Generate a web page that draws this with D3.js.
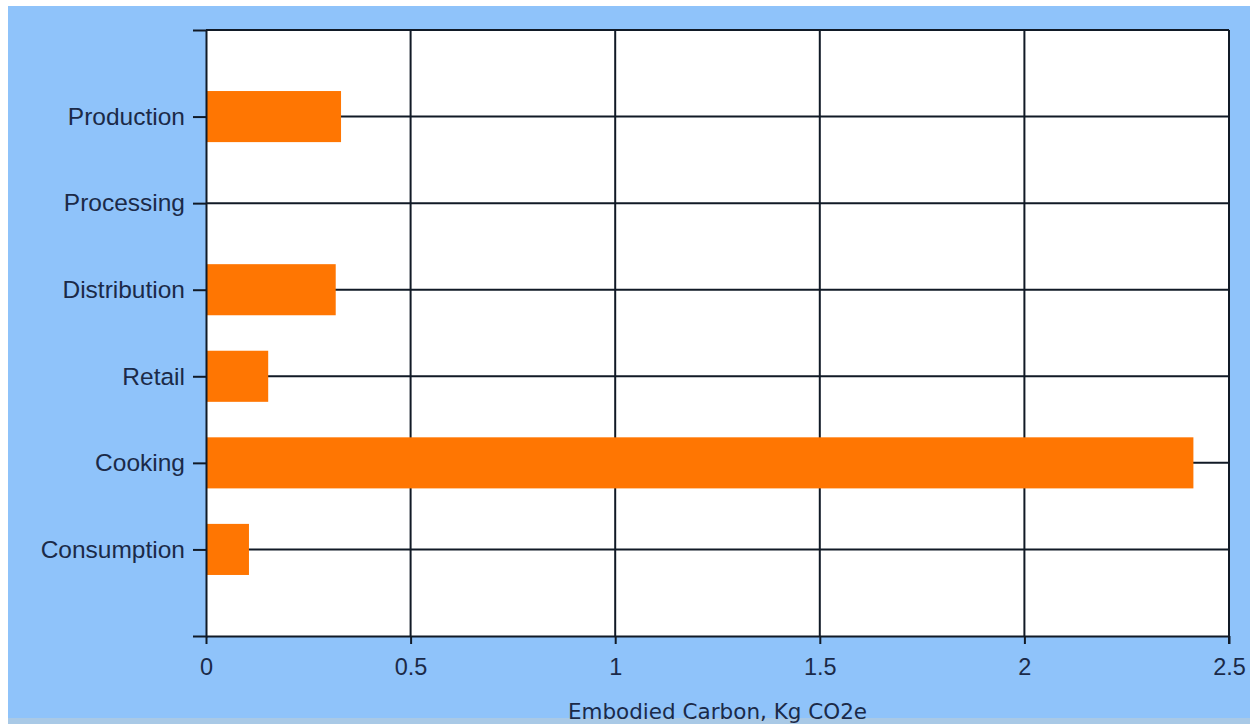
<!DOCTYPE html>
<html>
<head>
<meta charset="utf-8">
<script src="https://cdn.jsdelivr.net/npm/d3@7"></script>
<style>
  html, body { margin: 0; padding: 0; background: #ffffff; }
  svg { display: block; }
</style>
</head>
<body>
<svg id="chart" width="1250" height="724"></svg>
<script>
const categories = ["Production", "Processing", "Distribution", "Retail", "Cooking", "Consumption"];
const values = [0.33, 0, 0.317, 0.152, 2.413, 0.105];
const xTicks = [0, 0.5, 1, 1.5, 2, 2.5];
const xTickLabels = ["0", "0.5", "1", "1.5", "2", "2.5"];
const xTitle = "Embodied Carbon, Kg CO2e";

const W = 1250, H = 724;
const plot = { left: 206, right: 1229, top: 30, bottom: 636 };
const textColor = "#1b2a48";
const lineColor = "#111a26";
const barColor = "#ff7602";

const svg = d3.select("#chart");

// background
svg.append("rect").attr("x", 0).attr("y", 0).attr("width", W).attr("height", H).attr("fill", "#ffffff");
svg.append("rect").attr("x", 8).attr("y", 6).attr("width", W - 8).attr("height", 712).attr("fill", "#8fc3fa");
svg.append("rect").attr("x", 8).attr("y", 718).attr("width", W - 8).attr("height", 6).attr("fill", "#a9c9e6");

// plot area
svg.append("rect").attr("x", plot.left).attr("y", plot.top)
  .attr("width", plot.right - plot.left).attr("height", plot.bottom - plot.top)
  .attr("fill", "#ffffff");

const x = d3.scaleLinear().domain([0, 2.5]).range([plot.left, plot.right]);
const y = d3.scalePoint().domain(categories).range([plot.top, plot.bottom]).padding(1);

// gridlines
const grid = svg.append("g");
grid.selectAll("line.h").data(categories).join("line")
  .attr("x1", plot.left).attr("x2", plot.right)
  .attr("y1", d => y(d)).attr("y2", d => y(d))
  .attr("stroke", lineColor).attr("stroke-width", 2);
grid.selectAll("line.v").data(xTicks.filter(t => t > 0)).join("line")
  .attr("x1", d => x(d)).attr("x2", d => x(d))
  .attr("y1", plot.top).attr("y2", plot.bottom)
  .attr("stroke", lineColor).attr("stroke-width", 2);
// top border
grid.append("line").attr("x1", plot.left).attr("x2", plot.right)
  .attr("y1", plot.top).attr("y2", plot.top)
  .attr("stroke", lineColor).attr("stroke-width", 2);

// bars
const barH = y.step() * 0.59;
svg.append("g").selectAll("rect").data(categories).join("rect")
  .attr("x", x(0))
  .attr("y", d => y(d) - barH / 2)
  .attr("width", (d, i) => x(values[i]) - x(0))
  .attr("height", barH)
  .attr("fill", barColor);

// y axis
const yAxis = svg.append("g").attr("transform", `translate(${plot.left},0)`)
  .call(d3.axisLeft(y).tickSize(13).tickSizeOuter(13).tickPadding(8));
yAxis.select(".domain").attr("stroke", lineColor).attr("stroke-width", 2);
yAxis.selectAll(".tick line").attr("stroke", lineColor).attr("stroke-width", 2);
yAxis.selectAll(".tick text")
  .attr("fill", textColor)
  .style("font-family", "'Liberation Sans', Arial, sans-serif")
  .style("font-size", "24.5px");

// x axis
const xAxis = svg.append("g").attr("transform", `translate(0,${plot.bottom})`)
  .call(d3.axisBottom(x).tickValues(xTicks).tickFormat((d, i) => xTickLabels[i])
    .tickSize(8).tickSizeOuter(0).tickPadding(14));
xAxis.select(".domain").attr("stroke", lineColor).attr("stroke-width", 2);
xAxis.selectAll(".tick line").attr("stroke", lineColor).attr("stroke-width", 2);
xAxis.selectAll(".tick text")
  .attr("fill", textColor)
  .style("font-family", "'Liberation Sans', Arial, sans-serif")
  .style("font-size", "23.5px");

// right border
svg.append("line").attr("x1", plot.right).attr("x2", plot.right)
  .attr("y1", plot.top).attr("y2", plot.bottom + 8)
  .attr("stroke", lineColor).attr("stroke-width", 2);

// x title
svg.append("text")
  .attr("x", (plot.left + plot.right) / 2)
  .attr("y", 719)
  .attr("text-anchor", "middle")
  .attr("fill", textColor)
  .style("font-family", "'DejaVu Sans', Verdana, sans-serif")
  .style("font-size", "21.5px")
  .text(xTitle);
</script>
</body>
</html>
